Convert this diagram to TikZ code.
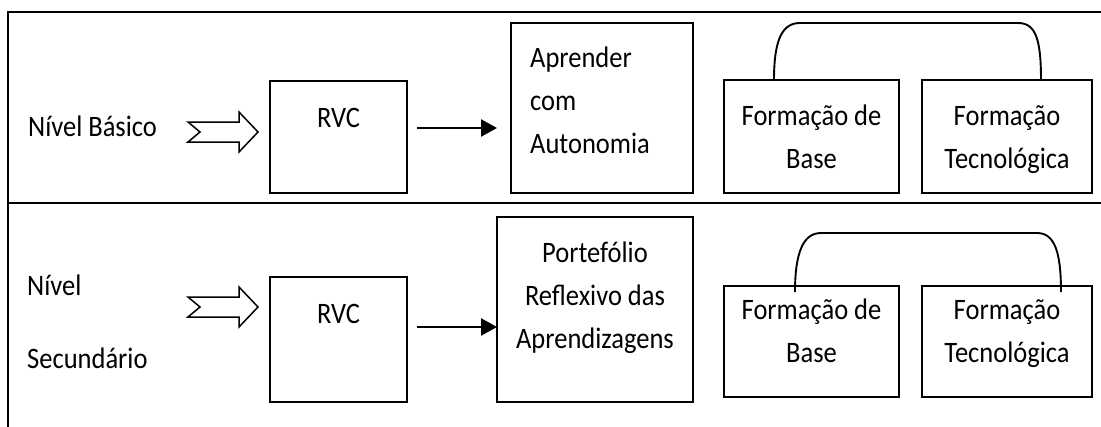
\documentclass[tikz,border=0pt]{standalone}
\usepackage{fontspec}
\usepackage{graphicx}
\setmainfont{Carlito}
\usetikzlibrary{arrows.meta,calc}
\newcommand{\tallcaps}[1]{\scalebox{1}[1.12]{#1}}
\tikzset{
  framerule/.style={line width=2.4pt, line cap=rect},
  boxnode/.style={draw, line width=2.1pt, inner sep=0pt, outer sep=0pt, anchor=north west},
  txt/.style={inner sep=0pt, font=\fontsize{26.5}{30}\selectfont},
  flowarrow/.style={line width=2.6pt, -{Triangle[length=16pt,width=17pt]}},
  hollowarrow/.style={draw, line width=1.5pt, line join=miter, fill=white},
  bracketline/.style={line width=1.9pt},
  notched/.pic={
    \path[hollowarrow] (0,0) -- (-19,-20) -- (-19,-10) -- (-70,-10) -- (-58,0)
      -- (-70,10) -- (-19,10) -- (-19,20) -- cycle;
  }
}
\begin{document}
\begin{tikzpicture}[x=1pt,y=-1pt]
\useasboundingbox (0,0) rectangle (1101,426);

% outer frame and the divider between the two levels
\draw[framerule] (1101,12) -- (8,12) -- (8,426);
\draw[framerule] (8,203) -- (1101,203);

% ---------- Nível Básico ----------
\node[txt, anchor=base west] (nb) at (28,136) {\tallcaps{Nível Básico}};
\pic at (258,132) {notched};

\node[boxnode, minimum width=137pt, minimum height=112pt] (rvc1) at (270,81) {};
\node[txt, anchor=base] at ($(rvc1.north)+(0,46)$) {\tallcaps{RVC}};

\node[boxnode, minimum width=182pt, minimum height=170pt] (apr1) at (511,23) {};
\node[txt, anchor=base west] at ($(apr1.north west)+(19,44)$) {\tallcaps{Aprender}};
\node[txt, anchor=base west] at ($(apr1.north west)+(19,87)$) {\tallcaps{com}};
\node[txt, anchor=base west] at ($(apr1.north west)+(19,130)$) {\tallcaps{Autonomia}};

\node[boxnode, minimum width=175pt, minimum height=113pt] (fb1) at (724,80) {};
\node[txt, anchor=base] at ($(fb1.north)+(0,45)$) {\tallcaps{Formação de}};
\node[txt, anchor=base] at ($(fb1.north)+(0,88)$) {\tallcaps{Base}};

\node[boxnode, minimum width=170pt, minimum height=113pt] (ft1) at (922,80) {};
\node[txt, anchor=base] at ($(ft1.north)+(0,45)$) {\tallcaps{Formação}};
\node[txt, anchor=base] at ($(ft1.north)+(0,88)$) {\tallcaps{Tecnológica}};

\draw[flowarrow] ($(rvc1.north east)+(10,47)$) -- ($(apr1.north west)+(-14,105)$);
\draw[bracketline] ($(fb1.north west)+(50,0)$)
  .. controls ($(fb1.north west)+(50,-40)$) and ($(fb1.north west)+(58,-57)$) .. ($(fb1.north west)+(76,-57)$)
  -- ($(ft1.north west)+(96,-57)$)
  .. controls ($(ft1.north west)+(114,-57)$) and ($(ft1.north west)+(119,-40)$) .. ($(ft1.north west)+(119,0)$);

% ---------- Nível Secundário ----------
\node[txt, anchor=base west] (ns1) at (27,295) {\tallcaps{Nível}};
\node[txt, anchor=base west] (ns2) at (27,368) {\tallcaps{Secundário}};
\pic at (258,307) {notched};

\node[boxnode, minimum width=137pt, minimum height=125pt] (rvc2) at (270,277) {};
\node[txt, anchor=base] at ($(rvc2.north)+(0,46)$) {\tallcaps{RVC}};

\node[boxnode, minimum width=196pt, minimum height=185pt] (por2) at (497,217) {};
\node[txt, anchor=base] at ($(por2.north)+(0,45)$) {\tallcaps{Portefólio}};
\node[txt, anchor=base] at ($(por2.north)+(0,88)$) {\tallcaps{Reflexivo das}};
\node[txt, anchor=base] at ($(por2.north)+(0,131)$) {\tallcaps{Aprendizagens}};

\node[boxnode, minimum width=175pt, minimum height=111pt] (fb2) at (724,286) {};
\node[txt, anchor=base] at ($(fb2.north)+(0,33)$) {\tallcaps{Formação de}};
\node[txt, anchor=base] at ($(fb2.north)+(0,76)$) {\tallcaps{Base}};

\node[boxnode, minimum width=170pt, minimum height=111pt] (ft2) at (922,286) {};
\node[txt, anchor=base] at ($(ft2.north)+(0,33)$) {\tallcaps{Formação}};
\node[txt, anchor=base] at ($(ft2.north)+(0,76)$) {\tallcaps{Tecnológica}};

\draw[flowarrow] ($(rvc2.north east)+(10,50)$) -- ($(por2.north west)+(0,110)$);
\draw[bracketline] ($(fb2.north west)+(71,6)$)
  .. controls ($(fb2.north west)+(71,-33)$) and ($(fb2.north west)+(79,-53)$) .. ($(fb2.north west)+(97,-53)$)
  -- ($(ft2.north west)+(115,-53)$)
  .. controls ($(ft2.north west)+(133,-53)$) and ($(ft2.north west)+(139,-33)$) .. ($(ft2.north west)+(139,6)$);
\end{tikzpicture}
\end{document}
